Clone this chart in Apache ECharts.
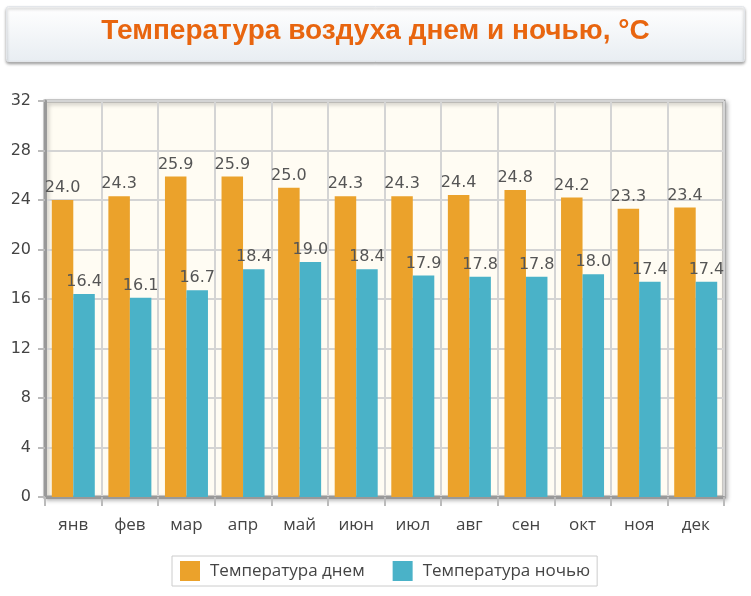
<!DOCTYPE html>
<html><head><meta charset="utf-8">
<script src="https://cdn.jsdelivr.net/npm/echarts@6/dist/echarts.min.js"></script>
<style>html,body{margin:0;padding:0;background:#fff}#c{width:751px;height:596px}</style>
</head><body><div id="c"></div>
<script>
const titleText = 'Температура воздуха днем и ночью, °C';
const months = ['янв','фев','мар','апр','май','июн','июл','авг','сен','окт','ноя','дек'];
const dayName = 'Температура днем';
const nightName = 'Температура ночью';
const dayTemps = [24.0,24.3,25.9,25.9,25.0,24.3,24.3,24.4,24.8,24.2,23.3,23.4];
const nightTemps = [16.4,16.1,16.7,18.4,19.0,18.4,17.9,17.8,17.8,18.0,17.4,17.4];

const chart = echarts.init(document.getElementById('c'), null, {renderer:'canvas'});
const lbl = {show:true, position:'top', distance:4, color:'#555', fontFamily:'DejaVu Sans', fontSize:16,
  formatter: p => p.value.toFixed(1)};
const uiFont = '"Open Sans", Lato, sans-serif';
chart.setOption({
  animation:false,
  backgroundColor:'#fff',
  graphic:[{
    type:'rect', left:6, top:6, shape:{width:738, height:55, r:2},
    style:{fill:new echarts.graphic.LinearGradient(0,0,0,1,[{offset:0,color:'#ffffff'},{offset:1,color:'#e8edf2'}]),
      stroke:'#e3e6ea', lineWidth:1, shadowColor:'rgba(0,0,0,0.35)', shadowBlur:3, shadowOffsetY:2},
    z:0
  },{
    type:'text', left:'center', top:17,
    style:{text:titleText, fill:'#e8650f', font:'bold 28px "Liberation Sans", Arial, sans-serif'}, z:1
  }],
  grid:{left:45, right:27, top:101, bottom:99, show:true, backgroundColor:'#fffcf3', borderColor:'#999', borderWidth:3,
    shadowColor:'rgba(0,0,0,0.25)', shadowBlur:4, shadowOffsetX:2, shadowOffsetY:2},
  legend:{bottom:10, left:172, itemWidth:20, itemHeight:20, itemGap:28, padding:[5,7,5,8],
    borderColor:'#ccc', borderWidth:1, backgroundColor:'#fff',
    textStyle:{color:'#444', fontSize:17, fontFamily:uiFont, padding:[0,0,0,5]},
    icon:'rect', data:[dayName, nightName]},
  xAxis:{type:'category', data:months,
    axisLine:{show:true, lineStyle:{color:'#999', width:3}},
    axisTick:{show:true, length:9, lineStyle:{color:'#bbb', width:2}},
    splitLine:{show:true, lineStyle:{color:'#d4d4d4', width:2}},
    axisLabel:{color:'#444', fontSize:17, margin:20, fontFamily:uiFont}},
  yAxis:{type:'value', min:0, max:32, interval:4,
    axisLine:{show:true, lineStyle:{color:'#999', width:3}},
    axisTick:{show:true, length:7, lineStyle:{color:'#bbb', width:2}},
    splitLine:{show:true, lineStyle:{color:'#d4d4d4', width:2}},
    axisLabel:{color:'#444', fontSize:16, margin:14, fontFamily:'DejaVu Sans'}},
  series:[
    {name:dayName, type:'bar', data:dayTemps, barGap:'0%', barCategoryGap:'24%',
      itemStyle:{color:'#eba22b'}, label:lbl},
    {name:nightName, type:'bar', data:nightTemps, barGap:'0%', barCategoryGap:'24%',
      itemStyle:{color:'#4ab2c8'}, label:lbl}
  ]
});
</script></body></html>
